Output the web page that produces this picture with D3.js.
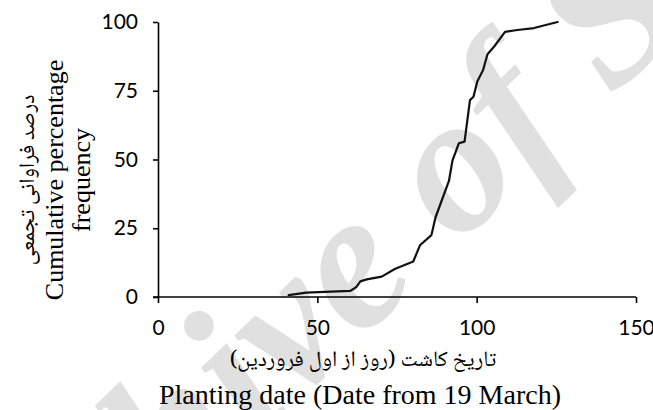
<!DOCTYPE html>
<html>
<head>
<meta charset="utf-8">
<script src="https://cdn.jsdelivr.net/npm/d3@7"></script>
<style>
  html, body { margin: 0; padding: 0; background: #fff; }
  svg { display: block; }
</style>
</head>
<body>
<svg id="chart" width="653" height="410"></svg>
<script>
// Planting date (days from 19 March) and cumulative percentage frequency
const plantingDay = [41, 46.5, 60.3, 62.2, 63.5, 65.5, 70.2, 74.3, 80.1, 82.2, 85.8, 87.1, 91.3, 92.4, 94.4, 96.2, 97.9, 99.0, 100.2, 102.0, 103.4, 105.5, 108.9, 112.8, 118, 125.4];
const cumulativePct = [0.7, 1.6, 2.2, 3.6, 5.7, 6.4, 7.4, 10.2, 12.9, 18.8, 22.5, 29, 42.2, 49.6, 55.9, 56.5, 71.6, 72.8, 78.4, 82.5, 88.3, 91.1, 96.4, 97.1, 97.8, 100];

const xTicks = [0, 50, 100, 150];
const yTicks = [0, 25, 50, 75, 100];

const xTitleFa = "تاریخ کاشت (روز از اول فروردین)";
const xTitleEn = "Planting date (Date from 19 March)";
const yTitleFa = "درصد فراوانی تجمعی";
const yTitleEn1 = "Cumulative percentage";
const yTitleEn2 = "frequency";
const watermark = "Archive of SID";

const svg = d3.select("#chart");
const plot = { left: 158, right: 636, top: 22, bottom: 297 };

const x = d3.scaleLinear().domain([0, 150]).range([plot.left, plot.right]);
const y = d3.scaleLinear().domain([0, 100]).range([plot.bottom, plot.top]);

const serif = "'Liberation Serif', 'Times New Roman', serif";
const sans = "Lato, 'Open Sans', sans-serif";
const faFont = "'Noto Naskh Arabic', 'Noto Sans Arabic', 'DejaVu Sans', sans-serif";

// Background watermark
svg.append("text")
  .attr("transform", "translate(-37,724) rotate(-44)")
  .attr("font-family", serif)
  .attr("font-style", "italic")
  .attr("font-weight", "bold")
  .attr("font-size", 198)
  .attr("fill", "#e0e0e0")
  .text(watermark);

// Axes
const yAxis = d3.axisLeft(y).tickValues(yTicks).tickSizeInner(5).tickSizeOuter(0).tickPadding(15);
const xAxis = d3.axisBottom(x).tickValues(xTicks).tickSizeInner(6).tickSizeOuter(0).tickPadding(17);

const gy = svg.append("g").attr("transform", `translate(${plot.left},0)`).call(yAxis);
const gx = svg.append("g").attr("transform", `translate(0,${plot.bottom})`).call(xAxis);

[gx, gy].forEach(g => {
  g.select(".domain").attr("stroke", "#000").attr("stroke-width", 1.6);
  g.selectAll(".tick line").attr("stroke", "#000").attr("stroke-width", 1.6);
  g.selectAll(".tick text")
    .attr("fill", "#000")
    .attr("font-family", sans)
    .attr("font-size", 21);
});
// extend the x axis line under the y=0 tick
gx.select(".domain").attr("d", `M${plot.left - 5},0H${plot.right}`);

// Cumulative curve
const line = d3.line()
  .x((d, i) => x(plantingDay[i]))
  .y(d => y(d));

svg.append("path")
  .datum(cumulativePct)
  .attr("d", line)
  .attr("fill", "none")
  .attr("stroke", "#111")
  .attr("stroke-width", 2.2)
  .attr("stroke-linejoin", "round")
  .attr("stroke-linecap", "round");

// X axis titles
svg.append("text")
  .attr("x", 363).attr("y", 366)
  .attr("text-anchor", "middle")
  .attr("direction", "rtl")
  .attr("font-family", faFont)
  .attr("font-size", 22)
  .attr("fill", "#000")
  .text(xTitleFa);

svg.append("text")
  .attr("x", 360).attr("y", 404)
  .attr("text-anchor", "middle")
  .attr("font-family", serif)
  .attr("font-size", 28)
  .attr("fill", "#000")
  .text(xTitleEn);

// Y axis titles
const yMid = 180;
svg.append("text")
  .attr("transform", `translate(34,${yMid}) rotate(-90)`)
  .attr("text-anchor", "middle")
  .attr("direction", "rtl")
  .attr("font-family", faFont)
  .attr("font-size", 22)
  .attr("fill", "#000")
  .text(yTitleFa);

svg.append("text")
  .attr("transform", `translate(63,${yMid}) rotate(-90)`)
  .attr("text-anchor", "middle")
  .attr("font-family", serif)
  .attr("font-size", 26)
  .attr("fill", "#000")
  .text(yTitleEn1);

svg.append("text")
  .attr("transform", `translate(90,${yMid}) rotate(-90)`)
  .attr("text-anchor", "middle")
  .attr("font-family", serif)
  .attr("font-size", 26)
  .attr("fill", "#000")
  .text(yTitleEn2);
</script>
</body>
</html>
